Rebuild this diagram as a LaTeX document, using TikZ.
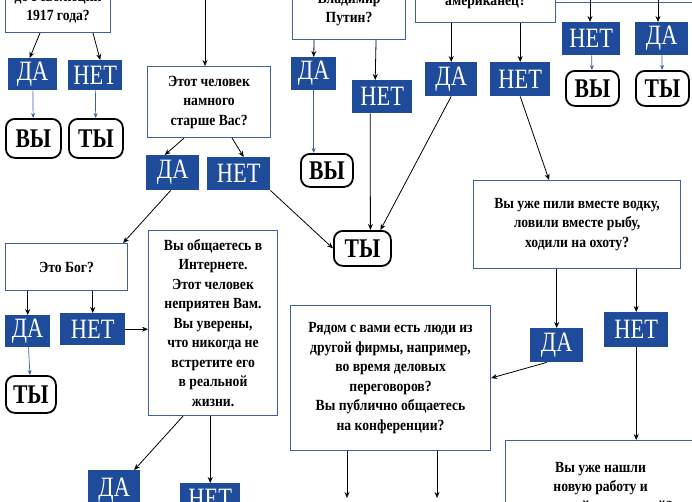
\documentclass[tikz,border=0pt]{standalone}
\usepackage{fontspec}
\setmainfont{Liberation Serif}
\newfontfamily\labfont[FakeStretch=0.8]{Liberation Serif}
\newfontfamily\qfont[FakeStretch=0.88]{Liberation Serif}
\usetikzlibrary{arrows.meta}
\definecolor{dblue}{HTML}{1F4C9A}
\definecolor{bframe}{HTML}{3F5EA8}
\tikzset{
 qbox/.style={draw=bframe,line width=1.1pt,fill=white,align=center,inner sep=2pt,font=\qfont\bfseries\fontsize{15.5}{19.5}\selectfont},
 ans/.style={fill=dblue,text=white,anchor=north west,inner sep=0pt,font=\labfont\fontsize{28}{28}\selectfont},
 res/.style={draw=black,line width=1.8pt,rounded corners=9pt,anchor=north west,inner sep=0pt,font=\labfont\bfseries\fontsize{27}{27}\selectfont},
 arr/.style={-{Stealth[length=6pt,width=5pt]},line width=0.8pt},
 barr/.style={-{Stealth[length=5pt,width=4pt]},line width=0.7pt,draw=bframe},
}
\begin{document}
\begin{tikzpicture}[x=1pt,y=1pt]
\useasboundingbox (0,0) rectangle (692,-501);
\clip (0,0) rectangle (692,-501);
% question boxes
\node[qbox,anchor=south west,minimum width=105pt,minimum height=50pt] (q1) at (5,-33) {до Революции\\1917 года?};
\node[qbox,anchor=north west,minimum width=123pt,minimum height=71pt] (q2) at (147,-66) {Этот человек\\намного\\старше Вас?};
\node[qbox,anchor=south west,minimum width=113pt,minimum height=60pt] (q3) at (292,-40) {Владимир\\Путин?};
\node[qbox,anchor=south west,minimum width=140pt,minimum height=40pt] (q4) at (415,-23) {американец?};
\node[qbox,anchor=north west,minimum width=137pt,minimum height=30pt] (q5) at (555,28) {};
\node[qbox,anchor=north west,minimum width=207pt,minimum height=88pt] (q6) at (473,-180) {Вы уже пили вместе водку,\\ловили вместе рыбу,\\ходили на охоту?};
\node[qbox,anchor=north west,minimum width=122pt,minimum height=47pt] (q7) at (5,-243) {Это Бог?};
\node[qbox,anchor=north west,minimum width=129pt,minimum height=185pt] (q8) at (148,-230) {Вы общаетесь в\\Интернете.\\Этот человек\\неприятен Вам.\\Вы уверены,\\что никогда не\\встретите его\\в реальной\\жизни.};
\node[qbox,anchor=north west,minimum width=200pt,minimum height=145pt] (q9) at (290,-305) {Рядом с вами есть люди из\\другой фирмы, например,\\во время деловых\\переговоров?\\Вы публично общаетесь\\на конференции?};
\node[qbox,anchor=north west,minimum width=190pt,minimum height=90pt] (q10) at (505,-440) {\\[-4pt]Вы уже нашли\\новую работу и\\готовы уйти со старой?};
% answers
\node[ans,minimum width=49pt,minimum height=32pt] (d1) at (8,-58) {ДА};
\node[ans,minimum width=54pt,minimum height=30pt] (n1) at (68,-60) {НЕТ};
\node[ans,minimum width=53pt,minimum height=35pt] (d2) at (146,-155) {ДА};
\node[ans,minimum width=63pt,minimum height=33pt] (n2) at (207,-157) {НЕТ};
\node[ans,minimum width=45pt,minimum height=33pt] (d3) at (291,-57) {ДА};
\node[ans,minimum width=60pt,minimum height=33pt] (n3) at (352,-80) {НЕТ};
\node[ans,minimum width=52pt,minimum height=34pt] (d4) at (425,-62) {ДА};
\node[ans,minimum width=60pt,minimum height=34pt] (n4) at (490,-62) {НЕТ};
\node[ans,minimum width=58pt,minimum height=33pt] (n5) at (562,-22) {НЕТ};
\node[ans,minimum width=53pt,minimum height=33pt] (d5) at (635,-22) {ДА};
\node[ans,minimum width=53pt,minimum height=34pt] (d6) at (530,-328) {ДА};
\node[ans,minimum width=64pt,minimum height=35pt] (n6) at (604,-312) {НЕТ};
\node[ans,minimum width=45pt,minimum height=32pt] (d7) at (5,-315) {ДА};
\node[ans,minimum width=65pt,minimum height=32pt] (n7) at (60,-313) {НЕТ};
\node[ans,minimum width=52pt,minimum height=40pt] (d8) at (88,-470) {ДА};
\node[ans,minimum width=60pt,minimum height=30pt,anchor=north west] (n8) at (180,-483) {НЕТ};
% results
\node[res,minimum width=55pt,minimum height=39pt] (r1) at (5,-118) {ВЫ};
\node[res,minimum width=54pt,minimum height=39pt] (r2) at (68,-118) {ТЫ};
\node[res,minimum width=52pt,minimum height=33pt] (r3) at (300,-153) {ВЫ};
\node[res,minimum width=53pt,minimum height=35pt] (r4) at (565,-70) {ВЫ};
\node[res,minimum width=53pt,minimum height=35pt] (r5) at (635,-70) {ТЫ};
\node[res,minimum width=57pt,minimum height=35pt] (r6) at (333,-230) {ТЫ};
\node[res,minimum width=50pt,minimum height=37pt] (r7) at (5,-375) {ТЫ};
% free ends
\coordinate (t1) at (205,0);
\coordinate (t2) at (590,0);
\coordinate (t3) at (658,0);
\coordinate (b1) at (347,-501);
\coordinate (b2) at (437,-501);
% connectors
\draw[arr] ([xshift=35pt]q1.south west) -- ([xshift=-3pt]d1.north);
\draw[arr] ([xshift=88pt]q1.south west) -- ([xshift=5pt]n1.north);
\draw[barr] (d1) -- (r1);
\draw[barr] (n1) -- (r2);
\draw[arr] (t1) -- (t1|-q2.north);
\draw[arr] ([xshift=-25pt]q2.south) -- ([xshift=-8pt]d2.north);
\draw[arr] ([xshift=23pt]q2.south) -- ([xshift=5pt]n2.north);
\draw[arr] ([xshift=-2pt]d2.south) -- ([xshift=-5pt]q7.north east);
\draw[arr] (n2.south east) -- (r6.west);
\draw[arr] ([xshift=-35pt]q3.south) -- (d3.north);
\draw[arr] ([xshift=27pt]q3.south) -- ([xshift=-7pt]n3.north);
\draw[barr] (d3) -- (d3|-r3.north);
\draw[arr] ([xshift=-12pt]n3.south) -- ([xshift=8pt]r6.north);
\draw[arr] (d4.south) -- ([xshift=18pt]r6.north);
\draw[arr] (d4|-q4.south) -- (d4.north);
\draw[arr] (n4|-q4.south) -- (n4.north);
\draw[arr] (n4.south) -- ([xshift=-28pt]q6.north);
\draw[arr] (t2) -- (n5.north-|t2);
\draw[arr] (t3) -- (d5.north-|t3);
\draw[barr] (n5) -- (r4);
\draw[barr] (d5) -- (r5);
\draw[arr] (d6|-q6.south) -- (d6.north);
\draw[arr] (n6|-q6.south) -- (n6.north);
\draw[arr] ([xshift=-10pt]d6.south) -- (q9.east);
\draw[arr] (n6.south) -- (n6.south|-q10.north);
\draw[arr] (d7|-q7.south) -- (d7.north);
\draw[arr] (n7|-q7.south) -- (n7.north);
\draw[barr] (d7) -- (r7);
\draw[arr] (n7.east) -- (n7.east-|q8.west);
\draw[arr] ([xshift=-30pt]q8.south) -- ([xshift=20pt]d8.north);
\draw[arr] (n8|-q8.south) -- (n8.north);
\draw[arr] (b1|-q9.south) -- ([yshift=3pt]b1);
\draw[arr] (b2|-q9.south) -- ([yshift=3pt]b2);
\end{tikzpicture}
\end{document}
